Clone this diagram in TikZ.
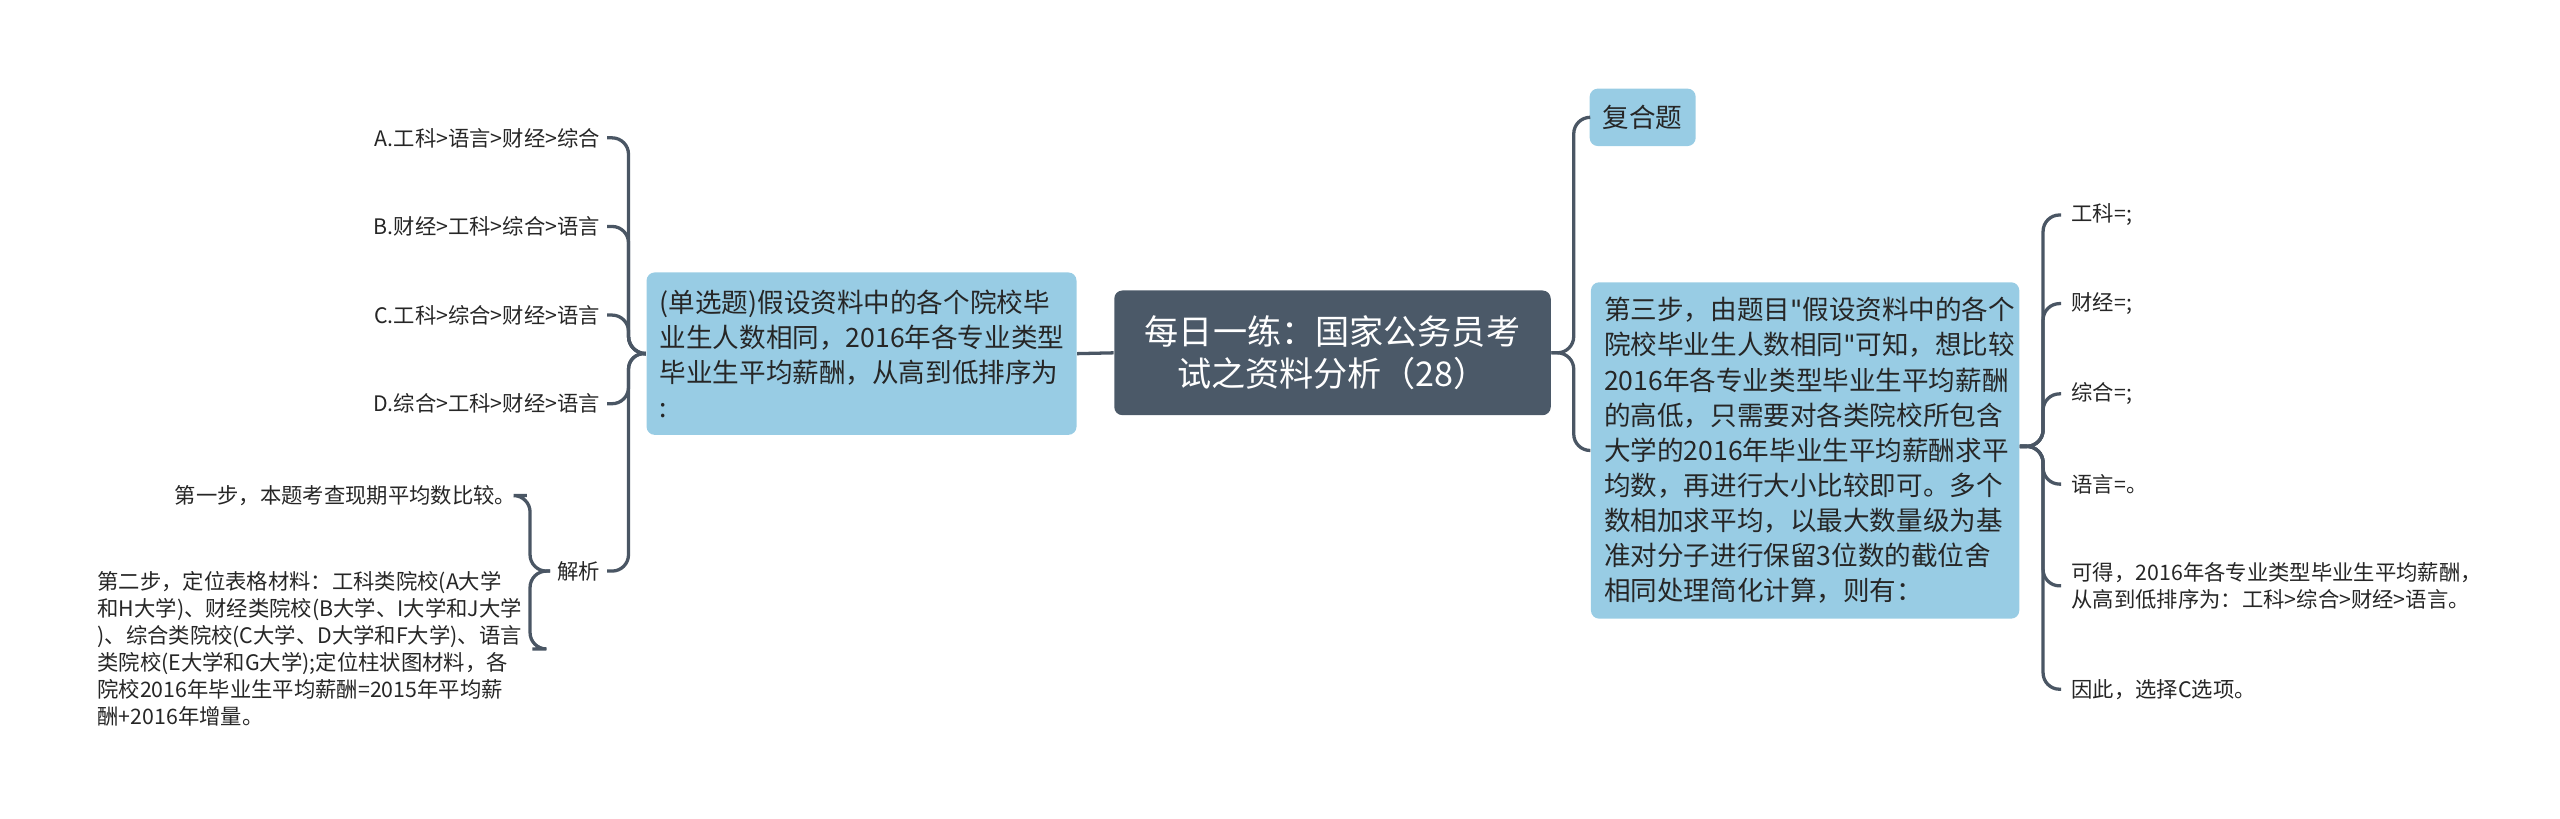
\documentclass[tikz,border=0pt]{standalone}
\usepackage{fontspec}
\setmainfont{Noto Sans CJK SC}
\newfontfamily\quotefont{DejaVu Sans}
\newcommand{\dq}{{\quotefont\char34}}
\usetikzlibrary{positioning,calc}
\definecolor{rootcolor}{RGB}{75,89,104}
\definecolor{boxcolor}{RGB}{152,204,228}
\definecolor{linecolor}{RGB}{74,86,100}

\begin{document}
\begin{tikzpicture}[x=0.5pt, y=-0.5pt,
    rootbox/.style={rectangle, rounded corners=2.5pt, fill=rootcolor, text=white, font=\fontsize{10.4}{13}\selectfont, align=center, inner sep=4pt},
    bluebox/.style={rectangle, rounded corners=2.5pt, fill=boxcolor, text=black!85, font=\fontsize{8.1}{10.7}\selectfont, align=left, inner sep=4pt},
    leaf/.style={inner sep=0pt, text=black!85, font=\fontsize{6.5}{8.2}\selectfont, align=left},
    conn/.style={draw=linecolor, line width=1pt, rounded corners=5pt}
]
\useasboundingbox (0,0) rectangle (1560,499);

% Root
\node[rootbox, minimum width=133pt, minimum height=38pt] (root) at (812,215) {每日一练：国家公务员考\\试之资料分析（28）};

% Question (left)
\node[bluebox, minimum width=131pt, minimum height=49.5pt, text width=123pt] (quest) at (525,215.5)
  {(单选题)假设资料中的各个院校毕\\业生人数相同，2016年各专业类型\\毕业生平均薪酬，从高到低排序为\\:};

% Options
\node[leaf, anchor=east] (optA) at (366,84) {A.工科>语言>财经>综合};
\node[leaf, anchor=east] (optB) at (366,138) {B.财经>工科>综合>语言};
\node[leaf, anchor=east] (optC) at (366,192) {C.工科>综合>财经>语言};
\node[leaf, anchor=east] (optD) at (366,246) {D.综合>工科>财经>语言};
\node[leaf, anchor=east] (anal) at (366,348) {解析};

% Analysis steps
\node[leaf, anchor=east] (step1) at (315,302) {第一步，本题考查现期平均数比较。};
\node[leaf, anchor=north west] (step2) at (59,348)
  {第二步，定位表格材料：工科类院校(A大学\\和H大学)、财经类院校(B大学、I大学和J大学\\)、综合类院校(C大学、D大学和F大学)、语言\\类院校(E大学和G大学);定位柱状图材料，各\\院校2016年毕业生平均薪酬=2015年平均薪\\酬+2016年增量。};

% Right branch
\node[bluebox, minimum width=31pt, minimum height=17.5pt] (comp) at (1001,71.5) {复合题};
\node[bluebox, minimum width=130.5pt, minimum height=102.5pt, text width=122.5pt] (third) at (1100,274.5)
  {第三步，由题目\dq 假设资料中的各个\\院校毕业生人数相同\dq 可知，想比较\\2016年各专业类型毕业生平均薪酬\\的高低，只需要对各类院校所包含\\大学的2016年毕业生平均薪酬求平\\均数，再进行大小比较即可。多个\\数相加求平均，以最大数量级为基\\准对分子进行保留3位数的截位舍\\相同处理简化计算，则有：};

% Results
\node[leaf, anchor=west] (rGK) at (1262,131) {工科=;};
\node[leaf, anchor=west] (rCJ) at (1262,185) {财经=;};
\node[leaf, anchor=west] (rZH) at (1262,240) {综合=;};
\node[leaf, anchor=west] (rYY) at (1262,295) {语言=。};
\node[leaf, anchor=west] (rOrd) at (1262,357) {可得，2016年各专业类型毕业生平均薪酬，\\从高到低排序为：工科>综合>财经>语言。};
\node[leaf, anchor=west] (rAns) at (1262,420) {因此，选择C选项。};

% Connectors
\draw[conn] (root.west) -- (quest.east);
\foreach \n in {optA,optB,optC,optD,anal}
  \draw[conn] (quest.west) -- (383,215) -- (383,0 |- \n.east) -- ($(\n.east)+(4,0)$);
\foreach \n in {step1,step2}
  \draw[conn] ($(anal.west)+(-4,0)$) -- (323,348) -- (323,0 |- \n.east) -- ($(\n.east)+(6,0)$);
\foreach \n in {comp,third}
  \draw[conn] (root.east) -- (959,215) -- (959,0 |- \n.west) -- (\n.west);
\foreach \n in {rGK,rCJ,rZH,rYY,rOrd,rAns}
  \draw[conn] (third.east |- 0,272) -- (1245,272) -- (1245,0 |- \n.west) -- ($(\n.west)+(-6,0)$);
\end{tikzpicture}
\end{document}
